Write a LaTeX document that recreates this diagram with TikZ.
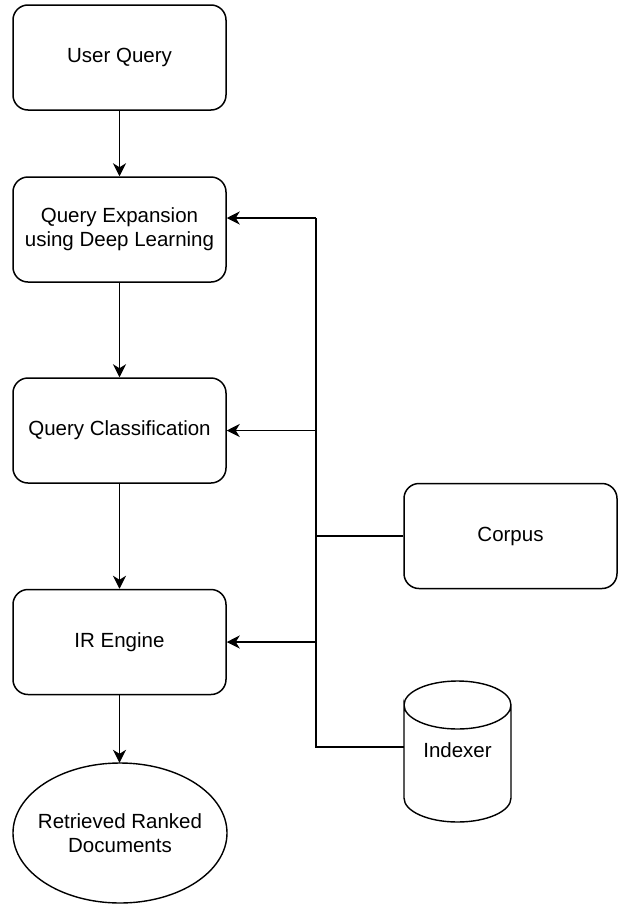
\documentclass[tikz,border=0pt]{standalone}
\usepackage{fontspec}
\setmainfont{Liberation Sans}
\usetikzlibrary{arrows.meta}
\begin{document}
\begin{tikzpicture}[x=1pt,y=-1pt,
  every node/.style={font=\fontsize{20.5}{24}\selectfont, align=center},
  box/.style={draw, line width=1.5pt, rounded corners=15pt, minimum width=213pt, minimum height=105pt, inner sep=0pt},
  shell/.style={minimum width=214pt, minimum height=140pt, inner sep=0pt},
  dbnode/.style={minimum width=107pt, minimum height=141pt, inner sep=0pt},
  outline/.style={line width=1.4pt},
  conn/.style={line width=1.5pt},
  arr/.style={conn, -{Stealth[length=13pt,width=13pt,inset=4pt]}}]
\useasboundingbox (0,0) rectangle (622,905);
\node[box] (uq) at (119.5,57.5) {User Query};
\node[box] (qe) at (119.5,229.5) {Query Expansion\\using Deep Learning};
\node[box] (qc) at (119.5,430.5) {Query Classification};
\node[box] (ir) at (119.5,642) {IR Engine};
\node[shell] (rd) at (120,833) {Retrieved Ranked\\Documents};
\draw[outline] (rd.center) ellipse (107 and 70);
\node[box] (co) at (510.5,536) {Corpus};
\node[dbnode] (ix) at (457.5,751.5) {};
\node at (457.5,750) {Indexer};
% cylinder outline
\draw[outline] (404,705) arc[start angle=180, end angle=360, x radius=53.5, y radius=24]
  arc[start angle=0, end angle=180, x radius=53.5, y radius=24] -- (404,798)
  arc[start angle=180, end angle=0, x radius=53.5, y radius=24] -- (511,705);
\coordinate (t) at (316,218);
\coordinate (jc) at (316,536);
\coordinate (ji) at (316,747);
\draw[arr] (uq) -- (qe);
\draw[arr] (qe) -- (qc);
\draw[arr] (qc) -- (ir);
\draw[arr] (ir.south) -- (ir.south |- rd.north);
\draw[conn] (ix.west |- ji) -- (ji) -- (t);
\draw[conn] (co.west) -- (jc);
\draw[arr] (t) -- (qe.east |- t);
\draw[arr] (jc |- qc.east) -- (qc.east);
\draw[arr] (jc |- ir.east) -- (ir.east);
\end{tikzpicture}
\end{document}
